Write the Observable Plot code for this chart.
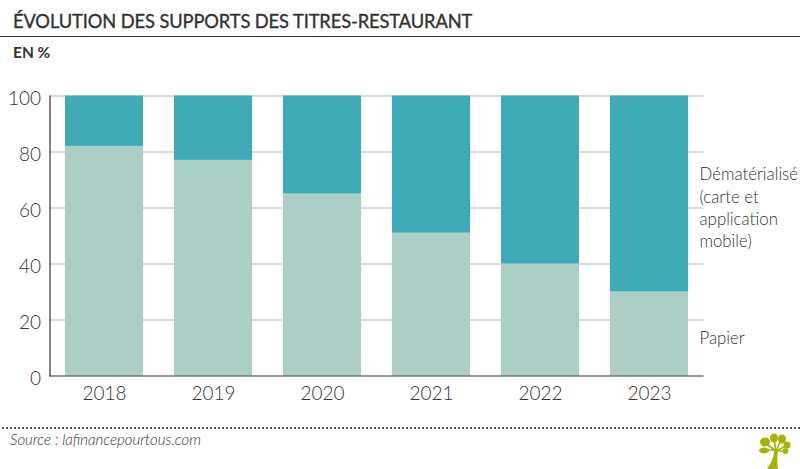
<!DOCTYPE html>
<html lang="fr">
<head>
<meta charset="utf-8">
<script src="https://cdn.jsdelivr.net/npm/d3@7"></script>
<script src="https://cdn.jsdelivr.net/npm/@observablehq/plot@0.6"></script>
<style>
html,body{margin:0;padding:0;background:#fff;overflow:hidden}
#page{position:relative;width:800px;height:469px;font-family:Lato,sans-serif;color:#333}
#title{position:absolute;left:13px;top:7px;font-size:18.3px;font-weight:400;-webkit-text-stroke:.35px #333;letter-spacing:-.1px;line-height:28px;white-space:nowrap}
#rule{position:absolute;left:0;top:36px;width:800px;border-top:1.5px solid #333}
#unit{position:absolute;left:13px;top:41px;font-size:15.5px;font-weight:700;line-height:22px}
#chart{position:absolute;left:0;top:70px}
#dots{position:absolute;left:2px;right:0;top:427px;border-top:2px dotted #555}
#source{position:absolute;left:10px;top:429px;font-size:15px;font-style:italic;font-weight:300;line-height:20px}
#logo{position:absolute;left:750px;top:425px}
svg{overflow:visible}
</style>
</head>
<body>
<div id="page">
  <div id="title">ÉVOLUTION DES SUPPORTS DES TITRES-RESTAURANT</div>
  <div id="rule"></div>
  <div id="unit">EN %</div>
  <div id="chart"></div>
  <div id="dots"></div>
  <div id="source">Source : lafinancepourtous.com</div>
  <svg id="logo" width="50" height="44" viewBox="0 0 50 44">
    <g fill="#a4b400">
      <path d="M17 44 C21 38 24 32 24.5 25 L28 25 C27 32 27 38 28 44 Z"/>
      <ellipse cx="15" cy="17" rx="5" ry="4.5"/>
      <ellipse cx="14" cy="25.5" rx="5" ry="3"/>
      <ellipse cx="24" cy="13" rx="4" ry="4.5"/>
      <ellipse cx="32" cy="14" rx="4" ry="4.5"/>
      <ellipse cx="37" cy="20" rx="3.5" ry="3.5"/>
      <ellipse cx="35.5" cy="26" rx="2.8" ry="3"/>
    </g>
    <g fill="none" stroke="#a4b400" stroke-width="1.6" stroke-linecap="round">
      <path d="M26 26 L15 18"/><path d="M25 25 L14 25"/><path d="M26 26 L24 14"/>
      <path d="M26 26 L31 15"/><path d="M26 26 L36 21"/><path d="M26 26 L35 26"/>
    </g>
  </svg>
</div>
<script>
const years = ["2018","2019","2020","2021","2022","2023"];
const papier = [82,77,65,51,40,30];
const dematerialise = [18,23,35,49,60,70];
const yTicks = [0,20,40,60,80,100];
const gridTicks = [20,40,60,80,100];

const rows = years.flatMap((year,i)=>[
  {year, support:"Papier", value:papier[i]},
  {year, support:"Dématérialisé", value:dematerialise[i]}
]);

const textFont = "Lato, sans-serif";
const chart = Plot.plot({
  width:800, height:340,
  marginLeft:49.5, marginRight:96.5, marginTop:25.5, marginBottom:34.5,
  style:{fontFamily:textFont,background:"transparent",color:"#333",overflow:"visible"},
  x:{domain:years,paddingInner:0.284,paddingOuter:0.142,align:0.5,label:null},
  y:{domain:[0,100],label:null},
  color:{domain:["Papier","Dématérialisé"],range:["#abcfc4","#3fabb7"]},
  marks:[
    Plot.ruleY(gridTicks,{stroke:"#b5b5b5",strokeWidth:1}),
    Plot.barY(rows,{x:"year",y:"value",fill:"support",order:["Papier","Dématérialisé"]}),
    Plot.ruleY([0],{stroke:"#333",strokeWidth:1.2}),
    Plot.frame({anchor:"left",stroke:"#333",strokeWidth:1.2}),
    Plot.axisY({ticks:yTicks,tickSize:0,tickPadding:9,dy:3,fontSize:19,fontWeight:300,label:null,fill:"#333"}),
    Plot.axisX({tickSize:0,tickPadding:10,fontSize:19,fontWeight:300,label:null,fill:"#333"}),
    Plot.text(["Dématérialisé\n(carte et\napplication\nmobile)"],{x:()=>"2023",y:()=>60.5,dx:50,textAnchor:"start",fontSize:16.8,fontWeight:300,lineHeight:1.32,fill:"#333"}),
    Plot.text(["Papier"],{x:()=>"2023",y:()=>13.5,dx:50,textAnchor:"start",fontSize:16.8,fontWeight:300,fill:"#333"})
  ]
});
document.getElementById("chart").appendChild(chart);
</script>
</body>
</html>
